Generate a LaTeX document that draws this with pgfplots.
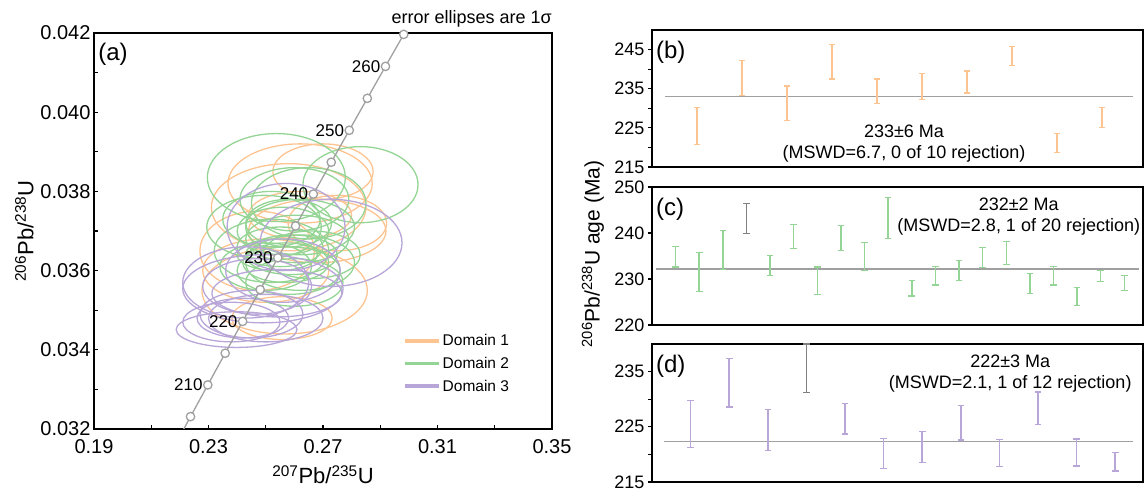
\documentclass[border=0pt]{standalone}
\usepackage{fontspec}
\setmainfont{Liberation Sans}
\usepackage{pgfplots}
\usepackage{pgfplotstable}
\pgfplotsset{compat=1.18}

\definecolor{c1}{RGB}{253,196,145}
\definecolor{c2}{RGB}{148,212,148}
\definecolor{c3}{RGB}{184,166,216}
\definecolor{cg}{RGB}{160,160,160}
\definecolor{cr}{RGB}{128,128,128}

% weighted-mean panels: position, age, 1 sigma
\pgfplotstableread{
x y e
1 225.45 4.65
2 237.75 4.45
3 231.25 4.45
4 241.85 4.35
5 234.35 3.15
6 235.55 3.25
7 236.70 2.80
8 243.35 2.45
9 221.15 2.35
10 227.55 2.55
}\datab
\pgfplotstableread{
x y e
1 234.80 2.20
2 231.50 4.20
3 236.25 4.25
5 232.90 2.20
6 239.30 2.60
7 229.60 3.00
8 238.90 2.70
9 234.95 3.05
10 243.25 4.45
11 228.00 1.70
12 230.75 2.05
13 231.85 2.15
14 234.65 2.15
15 235.60 2.50
16 229.05 2.15
17 230.75 2.05
18 226.15 1.95
19 230.60 1.20
20 229.10 1.60
}\datac
\pgfplotstableread{
x y e
4 243.15 3.25
}\datacr
\pgfplotstableread{
x y e
1 225.45 4.25
2 233.00 4.40
3 224.45 3.75
5 226.45 2.75
6 220.20 2.70
7 221.35 2.85
8 225.70 3.10
9 220.25 2.45
10 228.35 2.95
11 220.35 2.45
12 218.70 1.70
}\datad
\pgfplotstableread{
x y e
4 235.60 4.40
}\datadr

\pgfplotsset{
  wm/.style={
    scale only axis, anchor=south west, width=491pt,
    xtick=\empty, tick pos=left, tick align=outside,
    major tick length=4pt, minor tick length=4pt,
    every tick/.style={black, line width=1.2pt},
    axis line style={line width=1.6pt},
    /pgf/number format/assume math mode=true,
    tick label style={font=\fontsize{18}{20}\selectfont},
  },
  bars/.style={only marks, mark=text, text mark={}, #1,
    error bars/.cd, y dir=both, y explicit,
    error bar style={line width=1.5pt, #1},
    error mark options={rotate=90, mark size=3.3pt, line width=1.2pt, #1}},
}

\begin{document}
\begin{tikzpicture}
\path[use as bounding box] (0pt,0pt) rectangle (1148pt,489pt);

% (a) concordia
\begin{axis}[at={(94pt,60pt)}, anchor=south west, scale only axis, width=458pt, height=396pt,
  xmin=0.19, xmax=0.35, ymin=0.032, ymax=0.042,
  xtick={0.19,0.23,0.27,0.31,0.35}, minor xtick={0.21,0.25,0.29,0.33},
  ytick={0.032,0.034,0.036,0.038,0.040,0.042}, minor ytick={0.033,0.035,0.037,0.039,0.041},
  tick align=inside, tick pos=left,
  major tick length=4pt, minor tick length=4pt,
  every tick/.style={black, line width=1.2pt},
  axis line style={line width=1.6pt},
  scaled ticks=false,
  xticklabel style={yshift=-7pt, /pgf/number format/fixed, /pgf/number format/fixed zerofill, /pgf/number format/precision=2},
  yticklabel style={/pgf/number format/fixed, /pgf/number format/fixed zerofill, /pgf/number format/precision=3},
  /pgf/number format/assume math mode=true,
  tick label style={font=\fontsize{20}{22}\selectfont},
  xlabel={\textsuperscript{207}Pb/\textsuperscript{235}U},
  ylabel={\textsuperscript{206}Pb/\textsuperscript{238}U},
  xlabel style={yshift=-5pt},
  label style={font=\fontsize{22}{24}\selectfont},
  clip mode=individual,
  legend style={at={(rel axis cs:0.6747,0.2444)}, anchor=north west, draw=none, fill=none,
    inner sep=0pt, row sep=6pt, font=\fontsize{15.5}{17}\selectfont},
  legend cell align=left,
  legend image code/.code={\draw[#1, line width=3.5pt] (0pt,0pt) -- (34pt,0pt);},
]
% Domain 1
\draw[c1, line width=1.3pt] (axis cs:0.2566,0.0355) ellipse [x radius=0.0289, y radius=0.0011];
\draw[c1, line width=1.3pt] (axis cs:0.2557,0.0348) ellipse [x radius=0.0175, y radius=0.00054];
\draw[c1, line width=1.3pt] (axis cs:0.2500,0.0360) ellipse [x radius=0.0220, y radius=0.0008];
\draw[c1, line width=1.3pt] (axis cs:0.2620,0.0382) ellipse [x radius=0.0252, y radius=0.0010];
\draw[c1, line width=1.3pt] (axis cs:0.2700,0.0385) ellipse [x radius=0.0175, y radius=0.0007];
\draw[c1, line width=1.3pt] (axis cs:0.2580,0.0376) ellipse [x radius=0.0270, y radius=0.0011];
\draw[c1, line width=1.3pt] (axis cs:0.2470,0.0365) ellipse [x radius=0.0200, y radius=0.0010];
\draw[c1, line width=1.3pt] (axis cs:0.2680,0.0370) ellipse [x radius=0.0240, y radius=0.0008];
\draw[c1, line width=1.3pt] (axis cs:0.2750,0.0372) ellipse [x radius=0.0172, y radius=0.0007];
\draw[c1, line width=1.3pt] (axis cs:0.2620,0.0374) ellipse [x radius=0.0180, y radius=0.0006];
% Domain 2
\draw[c2, line width=1.3pt] (axis cs:0.2537,0.03835) ellipse [x radius=0.0241, y radius=0.00111];
\draw[c2, line width=1.3pt] (axis cs:0.2831,0.03817) ellipse [x radius=0.0201, y radius=0.00096];
\draw[c2, line width=1.3pt] (axis cs:0.2600,0.0378) ellipse [x radius=0.0190, y radius=0.0008];
\draw[c2, line width=1.3pt] (axis cs:0.2650,0.0377) ellipse [x radius=0.0200, y radius=0.0009];
\draw[c2, line width=1.3pt] (axis cs:0.2520,0.0373) ellipse [x radius=0.0170, y radius=0.0007];
\draw[c2, line width=1.3pt] (axis cs:0.2580,0.0372) ellipse [x radius=0.0150, y radius=0.0006];
\draw[c2, line width=1.3pt] (axis cs:0.2620,0.0371) ellipse [x radius=0.0190, y radius=0.0007];
\draw[c2, line width=1.3pt] (axis cs:0.2494,0.0371) ellipse [x radius=0.0200, y radius=0.0008];
\draw[c2, line width=1.3pt] (axis cs:0.2560,0.0370) ellipse [x radius=0.0160, y radius=0.0006];
\draw[c2, line width=1.3pt] (axis cs:0.2610,0.0368) ellipse [x radius=0.0180, y radius=0.0006];
\draw[c2, line width=1.3pt] (axis cs:0.2550,0.0366) ellipse [x radius=0.0150, y radius=0.0005];
\draw[c2, line width=1.3pt] (axis cs:0.2520,0.0365) ellipse [x radius=0.0200, y radius=0.0008];
\draw[c2, line width=1.3pt] (axis cs:0.2590,0.0364) ellipse [x radius=0.0160, y radius=0.0005];
\draw[c2, line width=1.3pt] (axis cs:0.2660,0.0364) ellipse [x radius=0.0170, y radius=0.0006];
\draw[c2, line width=1.3pt] (axis cs:0.2540,0.0364) ellipse [x radius=0.0140, y radius=0.0004];
\draw[c2, line width=1.3pt] (axis cs:0.2620,0.0362) ellipse [x radius=0.0190, y radius=0.0007];
\draw[c2, line width=1.3pt] (axis cs:0.2570,0.0362) ellipse [x radius=0.0150, y radius=0.0005];
\draw[c2, line width=1.3pt] (axis cs:0.2500,0.0361) ellipse [x radius=0.0160, y radius=0.0006];
\draw[c2, line width=1.3pt] (axis cs:0.2580,0.0360) ellipse [x radius=0.0180, y radius=0.0006];
\draw[c2, line width=1.3pt] (axis cs:0.2600,0.0357) ellipse [x radius=0.0170, y radius=0.0006];
% Domain 3
\draw[c3, line width=1.3pt] (axis cs:0.2571,0.0371) ellipse [x radius=0.0206, y radius=0.0011];
\draw[c3, line width=1.3pt] (axis cs:0.2728,0.0367) ellipse [x radius=0.0248, y radius=0.0011];
\draw[c3, line width=1.3pt] (axis cs:0.2560,0.0360) ellipse [x radius=0.0200, y radius=0.0008];
\draw[c3, line width=1.3pt] (axis cs:0.2430,0.0357) ellipse [x radius=0.0220, y radius=0.0009];
\draw[c3, line width=1.3pt] (axis cs:0.2470,0.0356) ellipse [x radius=0.0190, y radius=0.0007];
\draw[c3, line width=1.3pt] (axis cs:0.2490,0.03554) ellipse [x radius=0.0280, y radius=0.00086];
\draw[c3, line width=1.3pt] (axis cs:0.2539,0.03543) ellipse [x radius=0.0227, y radius=0.0006];
\draw[c3, line width=1.3pt] (axis cs:0.2450,0.0349) ellipse [x radius=0.0180, y radius=0.0006];
\draw[c3, line width=1.3pt] (axis cs:0.2420,0.0348) ellipse [x radius=0.0160, y radius=0.0005];
\draw[c3, line width=1.3pt] (axis cs:0.2500,0.0348) ellipse [x radius=0.0200, y radius=0.0006];
\draw[c3, line width=1.3pt] (axis cs:0.2380,0.0347) ellipse [x radius=0.0170, y radius=0.0005];
\draw[c3, line width=1.3pt] (axis cs:0.2398,0.03451) ellipse [x radius=0.0211, y radius=0.00045];
% concordia
\addplot[cg, line width=1.3pt, no marks, forget plot] coordinates {
(0.217706,0.031511) (0.223719,0.032312) (0.229759,0.033113) (0.235830,0.033914)
(0.241930,0.034717) (0.248061,0.035519) (0.254222,0.036323) (0.260413,0.037127)
(0.266635,0.037932) (0.272888,0.038737) (0.279171,0.039543) (0.285486,0.040350)
(0.291831,0.041157) (0.298208,0.041965)};
\addplot[cg, only marks, mark=*, mark size=4.2pt, mark options={fill=white, draw=cg, line width=1.3pt}, forget plot] coordinates {
(0.223719,0.032312) (0.229759,0.033113) (0.235830,0.033914)
(0.241930,0.034717) (0.248061,0.035519) (0.254222,0.036323) (0.260413,0.037127)
(0.266635,0.037932) (0.272888,0.038737) (0.279171,0.039543) (0.285486,0.040350)
(0.291831,0.041157) (0.298208,0.041965)};
\begin{scope}[every node/.style={anchor=east, inner sep=0pt, xshift=-5pt, font=\fontsize{17}{19}\selectfont}]
\node at (axis cs:0.229759,0.033113) {210};
\node at (axis cs:0.241930,0.034717) {220};
\node at (axis cs:0.254222,0.036323) {230};
\node at (axis cs:0.266635,0.037932) {240};
\node at (axis cs:0.279171,0.039543) {250};
\node at (axis cs:0.291831,0.041157) {260};
\end{scope}
\addlegendimage{c1}\addlegendentry{Domain 1}
\addlegendimage{c2}\addlegendentry{Domain 2}
\addlegendimage{c3}\addlegendentry{Domain 3}
\node[anchor=north west, inner sep=0pt, font=\fontsize{24}{26}\selectfont] at (rel axis cs:0.009,0.976) {(a)};
\node[anchor=base east, inner sep=0pt, font=\fontsize{18}{20}\selectfont] at (rel axis cs:1,1) [yshift=9pt] {error ellipses are 1σ};
\end{axis}

% (b)
\begin{axis}[wm, at={(652pt,322pt)}, height=137pt, xmin=0, xmax=10.91, ymin=215, ymax=250,
  ytick={215,225,235,245}, minor ytick={220,230,240}]
\addplot[cg, line width=1.5pt] coordinates {(0.29,233) (10.69,233)};
\addplot[bars=c1] table[x=x, y=y, y error=e] {\datab};
\node[align=center, font=\fontsize{18}{21}\selectfont] at (axis cs:5.6,221.0) {233±6 Ma\\(MSWD=6.7, 0 of 10 rejection)};
\node[anchor=west, inner sep=0pt, font=\fontsize{24}{26}\selectfont] at (rel axis cs:0.008,0.835) {(b)};
\node[anchor=base east, inner sep=0pt, font=\fontsize{18}{20}\selectfont] at (rel axis cs:1,1) [xshift=3pt, yshift=5.5pt] {error symbols are 1σ};
\end{axis}

% (c)
\begin{axis}[wm, at={(652pt,164pt)}, height=138pt, xmin=0, xmax=20.79, ymin=220, ymax=250,
  ytick={220,230,240,250}]
\addplot[cg, line width=1.5pt] coordinates {(0.18,232.2) (20.64,232.2)};
\addplot[bars=c2] table[x=x, y=y, y error=e] {\datac};
\addplot[bars=cr] table[x=x, y=y, y error=e] {\datacr};
\node[align=center, font=\fontsize{18}{21}\selectfont] at (axis cs:15.53,243.5) {232±2 Ma\\(MSWD=2.8, 1 of 20 rejection)};
\node[anchor=west, inner sep=0pt, font=\fontsize{24}{26}\selectfont] at (rel axis cs:0.008,0.84) {(c)};
\end{axis}

% (d)
\begin{axis}[wm, at={(652pt,7pt)}, height=138pt, xmin=0, xmax=12.72, ymin=215, ymax=240,
  ytick={215,225,235}, minor ytick={220,230}]
\addplot[cg, line width=1.5pt] coordinates {(0.32,222.3) (12.47,222.3)};
\addplot[bars=c3] table[x=x, y=y, y error=e] {\datad};
\addplot[bars=cr] table[x=x, y=y, y error=e] {\datadr};
\node[align=center, font=\fontsize{18}{21}\selectfont] at (axis cs:9.28,234.7) {222±3 Ma\\(MSWD=2.1, 1 of 12 rejection)};
\node[anchor=west, inner sep=0pt, font=\fontsize{24}{26}\selectfont] at (rel axis cs:0.008,0.84) {(d)};
\end{axis}

\node[rotate=90, font=\fontsize{21}{23}\selectfont] at (593pt,235pt) {\textsuperscript{206}Pb/\textsuperscript{238}U age (Ma)};
\end{tikzpicture}
\end{document}
